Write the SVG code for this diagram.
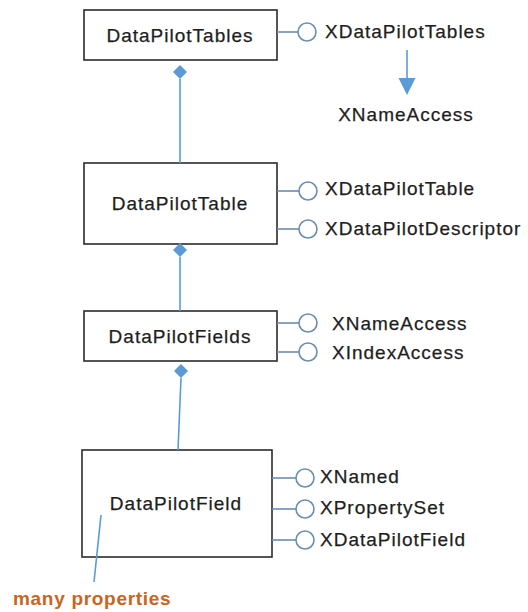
<svg xmlns="http://www.w3.org/2000/svg" width="528" height="612" viewBox="0 0 528 612">
<defs>
<style>
.box{fill:#fff;stroke:#2b2b2b;stroke-width:1.6}
.t{font-family:"Liberation Sans",Arial,sans-serif;font-size:19px;fill:#1e1e1e;letter-spacing:1px;stroke:#1e1e1e;stroke-width:0.25}
.c{text-anchor:middle}
.ln{stroke:#5B9BD5;stroke-width:1.6;fill:none}
.lp{stroke:#6A8DB0;stroke-width:1.6;fill:none}
.lc{stroke:#6A8DB0;stroke-width:1.6;fill:#fff}
.dm{fill:#5B9BD5}
.note{font-family:"Liberation Sans",Arial,sans-serif;font-size:19px;font-weight:bold;fill:#C8651E;letter-spacing:0.7px}
</style>
</defs>
<rect width="528" height="612" fill="#fff"/>
<g id="DataPilotTables">
<rect class="box" x="84" y="10" width="193" height="50"/>
<text class="t c" x="180" y="42">DataPilotTables</text>
</g>
<g id="XDataPilotTables">
<line class="lp" x1="277" y1="32" x2="298" y2="32"/>
<circle class="lc" cx="307" cy="32" r="9"/>
<text class="t" x="325" y="38">XDataPilotTables</text>
</g>
<g id="XNameAccess-top">
<text class="t c" x="406" y="121">XNameAccess</text>
</g>
<g id="DataPilotTable">
<rect class="box" x="84" y="163" width="193" height="81"/>
<text class="t c" x="180" y="210">DataPilotTable</text>
<line class="lp" x1="277" y1="191" x2="299" y2="191"/>
<circle class="lc" cx="308" cy="191" r="9"/>
<text class="t" x="325" y="195">XDataPilotTable</text>
<line class="lp" x1="277" y1="229" x2="299" y2="229"/>
<circle class="lc" cx="308" cy="229" r="9"/>
<text class="t" x="325" y="235">XDataPilotDescriptor</text>
</g>
<g id="DataPilotFields">
<rect class="box" x="84" y="311" width="193" height="50"/>
<text class="t c" x="180" y="343">DataPilotFields</text>
<line class="lp" x1="277" y1="323" x2="299" y2="323"/>
<circle class="lc" cx="308" cy="323" r="9"/>
<text class="t" x="332" y="330">XNameAccess</text>
<line class="lp" x1="277" y1="352" x2="299" y2="352"/>
<circle class="lc" cx="308" cy="352" r="9"/>
<text class="t" x="332" y="359">XIndexAccess</text>
</g>
<g id="DataPilotField">
<rect class="box" x="82" y="450" width="190" height="107"/>
<text class="t c" x="176" y="510">DataPilotField</text>
<line class="lp" x1="272" y1="478" x2="296" y2="478"/>
<circle class="lc" cx="305" cy="478" r="9"/>
<text class="t" x="320" y="483">XNamed</text>
<line class="lp" x1="272" y1="509" x2="296" y2="509"/>
<circle class="lc" cx="305" cy="509" r="9"/>
<text class="t" x="320" y="514">XPropertySet</text>
<line class="lp" x1="272" y1="540" x2="296" y2="540"/>
<circle class="lc" cx="305" cy="540" r="9"/>
<text class="t" x="320" y="546">XDataPilotField</text>
</g>
<g id="many-properties">
<text class="note" x="13" y="605">many properties</text>
</g>
<g id="connectors">
<line class="ln" x1="180" y1="79" x2="180" y2="163"/>
<polygon class="dm" points="180,65 187,72 180,79 173,72"/>
<line class="ln" x1="180" y1="257" x2="180" y2="311"/>
<polygon class="dm" points="180,243 187,250 180,257 173,250"/>
<line class="ln" x1="181" y1="378" x2="178" y2="450"/>
<polygon class="dm" points="181,364 188,371 181,378 174,371"/>
<line class="ln" x1="407" y1="50" x2="407" y2="80"/>
<polygon class="dm" points="398.5,78 415.5,78 407,95"/>
<line class="ln" x1="101" y1="515" x2="94" y2="582"/>
</g>
</svg>
